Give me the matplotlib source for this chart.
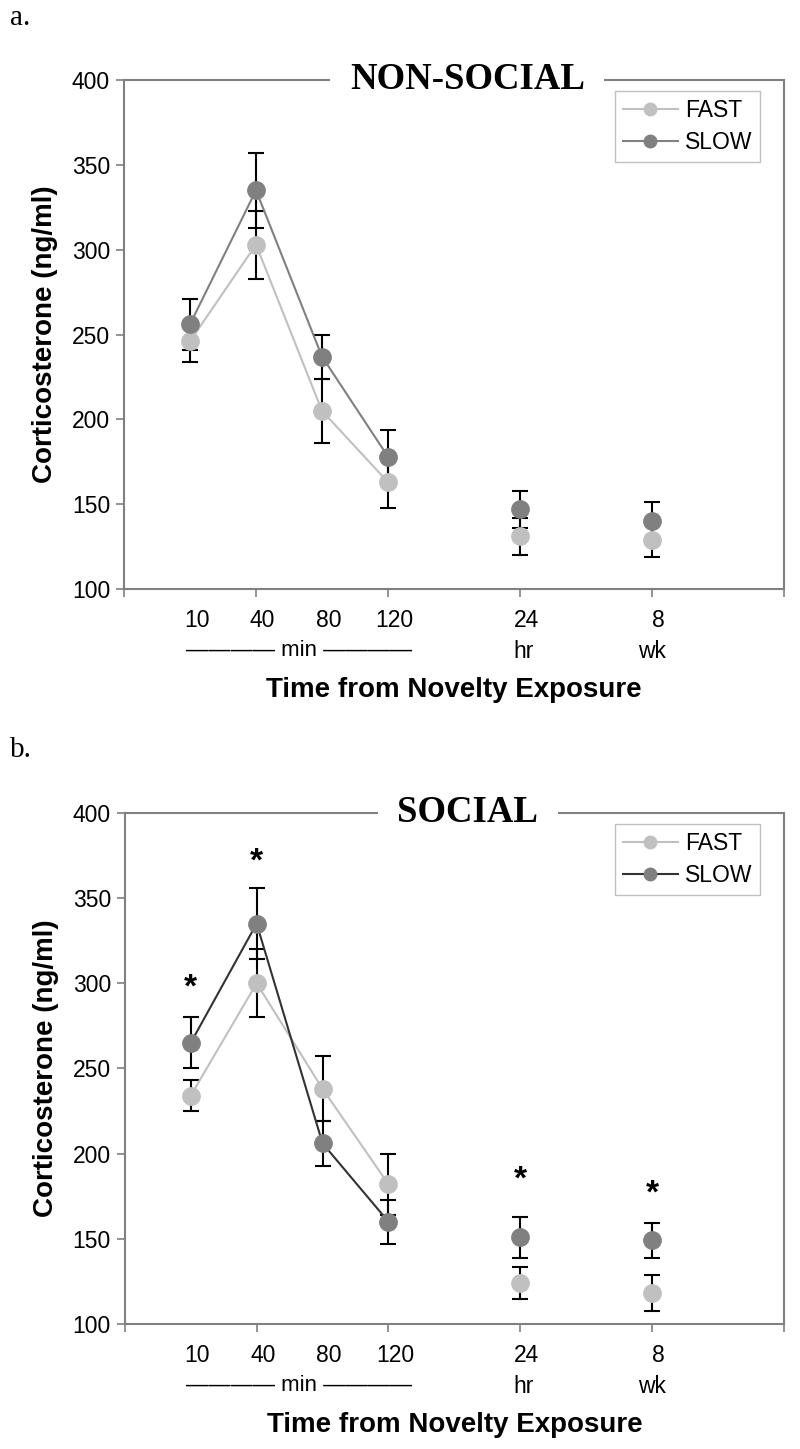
import numpy as np
import matplotlib.pyplot as plt

# time points (spacing on the axis), first four are the "min" samples
x_pos = [1, 2, 3, 4, 6, 8]
tick_labels = ['10', '40', '80', '120', '24', '8']
min_idx = 4  # number of connected points

# NON-SOCIAL
fast_ns = [246, 303, 205, 163, 131, 129]
fast_ns_err = [12, 20, 19, 15, 11, 10]
slow_ns = [256, 335, 237, 178, 147, 140]
slow_ns_err = [15, 22, 13, 16, 11, 11]

# SOCIAL
fast_s = [234, 300, 238, 182, 124, 118]
fast_s_err = [9, 20, 19, 18, 9.5, 10.5]
slow_s = [265, 335, 206, 160, 151, 149]
slow_s_err = [15, 21, 13, 13, 12, 10.5]
star_x = [1, 2, 6, 8]
star_y = [303, 377, 190, 182]

SANS = 'Liberation Sans'
SERIF = 'Liberation Serif'
FAST_C = '#c0c0c0'
SLOW_C = '#808080'
AX_C = '#808080'
FS = 16.5

fig = plt.figure(figsize=(8, 14.49), dpi=100)


def panel(rect, fast, fast_err, slow, slow_err, title, slow_line, letter, letter_y):
    ax = fig.add_axes(rect)
    ax.errorbar(x_pos, fast, yerr=fast_err, fmt='none', ecolor='black',
                elinewidth=1.5, capsize=6, capthick=1.5, zorder=2)
    ax.errorbar(x_pos, slow, yerr=slow_err, fmt='none', ecolor='black',
                elinewidth=1.5, capsize=6, capthick=1.5, zorder=2)
    ax.plot(x_pos[:min_idx], fast[:min_idx], color=FAST_C, lw=1.5, zorder=3)
    ax.plot(x_pos[:min_idx], slow[:min_idx], color=slow_line, lw=1.5, zorder=3)
    ax.plot(x_pos, fast, 'o', color=FAST_C, ms=12.5, zorder=4)
    ax.plot(x_pos, slow, 'o', color=SLOW_C, ms=12.5, zorder=4)

    # legend handles
    h1, = ax.plot([], [], '-o', color=FAST_C, mfc=FAST_C, mec=FAST_C, ms=9, lw=1.5)
    h2, = ax.plot([], [], '-', color=slow_line, marker='o', mfc=SLOW_C, mec=SLOW_C, ms=9, lw=1.5)
    leg = ax.legend([h1, h2], ['FAST', 'SLOW'], loc='upper right',
                    bbox_to_anchor=(0.964, 0.978), borderaxespad=0,
                    fancybox=False, framealpha=1, edgecolor='#c0c0c0',
                    prop={'family': SANS, 'size': FS}, handlelength=2.4,
                    handletextpad=0.3, labelspacing=0.4, borderpad=0.35)
    leg.get_frame().set_linewidth(1.0)

    ax.set_xlim(0, 10)
    ax.set_ylim(100, 400)
    ax.set_yticks(np.arange(100, 401, 50))
    ax.set_xticks(np.arange(0, 11, 2))
    ax.set_xticklabels([])
    for s in ax.spines.values():
        s.set_color(AX_C)
        s.set_linewidth(1.5)
    ax.tick_params(axis='both', colors=AX_C, length=6, width=1.2, direction='out')
    ax.tick_params(axis='y', labelcolor='black', labelsize=FS, pad=4)
    for lab in ax.get_yticklabels():
        lab.set_fontfamily(SANS)

    trans = ax.get_xaxis_transform()
    for xv, lab in zip(x_pos, tick_labels):
        ax.text(xv + 0.1, -0.061, lab, transform=trans, ha='center', va='center',
                fontsize=FS, family=SANS)
    ax.text(2.65, -0.12, '\u2014\u2014\u2014\u2014 min \u2014\u2014\u2014\u2014', transform=trans,
            ha='center', va='center', fontsize=FS - 0.5, family=SANS)
    ax.text(x_pos[4] + 0.05, -0.122, 'hr', transform=trans, ha='center', va='center',
            fontsize=FS, family=SANS)
    ax.text(x_pos[5], -0.122, 'wk', transform=trans, ha='center', va='center',
            fontsize=FS, family=SANS)
    ax.text(5.0, -0.198, 'Time from Novelty Exposure', transform=trans, ha='center',
            va='center', fontsize=20, family=SANS, fontweight='bold')
    ax.set_ylabel('Corticosterone (ng/ml)', fontsize=20, family=SANS,
                  fontweight='bold', labelpad=10)

    ax.text(5.2, 1.0, title, transform=trans, ha='center',
            va='center', fontsize=26.5, family=SERIF, fontweight='bold', zorder=10,
            bbox=dict(facecolor='white', edgecolor='none', pad=14), clip_on=False)
    fig.text(0.012, letter_y, letter, fontsize=21, family=SERIF, va='center')
    return ax


ax1 = panel([0.155, 0.5935, 0.825, 0.3513], fast_ns, fast_ns_err, slow_ns, slow_ns_err,
            'NON-SOCIAL', SLOW_C, 'a.', 1 - 18 / 1449)
ax2 = panel([0.156, 0.0863, 0.824, 0.3527], fast_s, fast_s_err, slow_s, slow_s_err,
            'SOCIAL', '#333333', 'b.', 1 - 750 / 1449)

for xs, ys in zip(star_x, star_y):
    ax2.annotate('*', (xs, ys), xytext=(0, -13), textcoords='offset points',
                 ha='center', va='baseline', fontsize=24, family=SANS, fontweight='bold')

fig.savefig('out.png', dpi=100)
